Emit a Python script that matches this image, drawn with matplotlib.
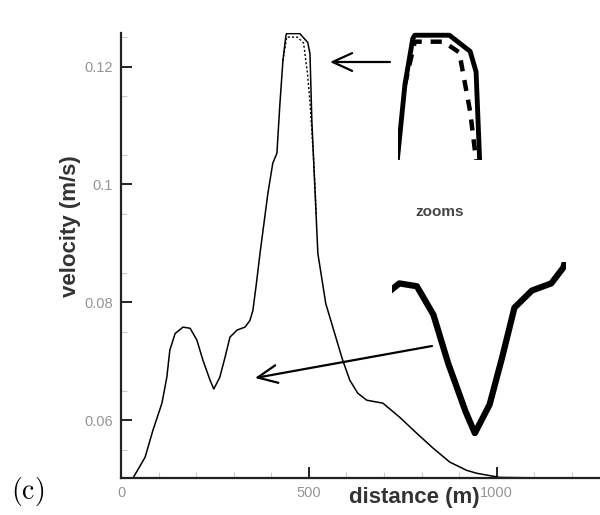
import matplotlib
matplotlib.use("Agg")
from matplotlib import pyplot as plt

# velocity profile along the section
dist = [32, 64, 85, 109, 122, 130, 144, 165, 184, 202, 218, 237, 247, 263, 277,
        290, 309, 330, 343, 351, 360, 370, 391, 404, 415, 423, 431, 439, 441,
        476, 497, 503, 508, 516, 524, 545, 582, 590, 609, 630, 654, 697, 742,
        787, 830, 875, 920, 947, 1008, 1141, 1200]
vel = [0.0502, 0.0537, 0.0583, 0.0629, 0.0673, 0.0719, 0.0747, 0.0758, 0.0756,
       0.0736, 0.0702, 0.0668, 0.0653, 0.0673, 0.0707, 0.0741, 0.0753, 0.0758,
       0.0769, 0.0786, 0.0830, 0.0883, 0.0985, 0.1036, 0.1053, 0.1137, 0.1210,
       0.1253, 0.1256, 0.1256, 0.1241, 0.1222, 0.1108, 0.0995, 0.0883, 0.0798,
       0.0719, 0.0702, 0.0668, 0.0646, 0.0634, 0.0629, 0.0605, 0.0578, 0.0553,
       0.0529, 0.0515, 0.0510, 0.0503, 0.0502, 0.0501]

# second (dashed) solution, only differs around the peak
dist_dash = [431, 441, 470, 486, 497, 503, 512, 520]
vel_dash = [0.1210, 0.1250, 0.1250, 0.1240, 0.1185, 0.1140, 0.1050, 0.0950]

yticks = [0.06, 0.08, 0.1, 0.12]
yticklabels = ["0.06", "0.08", "0.1", "0.12"]
xticks = [0, 500, 1000]

W, H = 600, 515
fig = plt.figure(figsize=(W / 100, H / 100), dpi=100)
plt.rcParams['mathtext.fontset'] = 'cm'

def box(x0, y0, x1, y1):
    # pixel box (top-left origin) -> figure fraction rect
    return [x0 / W, 1 - y1 / H, (x1 - x0) / W, (y1 - y0) / H]

ax = fig.add_axes(box(121, 33, 600, 478))
ax.plot(dist, vel, color='black', lw=1.1)
ax.plot(dist_dash, vel_dash, color='black', lw=1.0, ls=(0, (1.5, 1.5)))
ax.set_xlim(0, 1275)
ax.set_ylim(0.0502, 0.1257)
for s in ['top', 'right']:
    ax.spines[s].set_visible(False)
for s in ['left', 'bottom']:
    ax.spines[s].set_linewidth(1.6)
    ax.spines[s].set_color('#222222')
ax.set_yticks(yticks)
ax.set_yticklabels(yticklabels)
ax.set_xticks(xticks)
ax.set_xticks(range(100, 1300, 100), minor=True)
ax.set_yticks([0.055, 0.065, 0.075, 0.085, 0.095, 0.105, 0.115, 0.125], minor=True)
ax.tick_params(which='major', direction='in', length=8, width=1.4, color='#222222',
               labelsize=10.5, labelcolor='#959595', pad=6)
ax.tick_params(which='minor', direction='in', length=4, width=0.8, color='#cccccc')
ax.set_xlabel('distance (m)', fontsize=16, fontweight='bold', color='#333333',
              family='Liberation Sans')
ax.xaxis.set_label_coords(0.613, -0.02)
ax.set_ylabel('velocity (m/s)', fontsize=16, fontweight='bold', color='#333333',
              family='Liberation Sans')
ax.yaxis.set_label_coords(-0.083, 0.566)
for lab in ax.get_xticklabels() + ax.get_yticklabels():
    lab.set_family('Liberation Sans')

# zoom on the peak
ax1 = fig.add_axes(box(398, 32, 482, 160))
ax1.plot(dist, vel, color='black', lw=3.5)
ax1.plot(dist_dash, vel_dash, color='black', lw=3.2, ls=(0, (2.5, 2)))
ax1.set_xlim(424, 509)
ax1.set_ylim(0.1140, 0.1259)
ax1.axis('off')

# zoom on the dip
ax2 = fig.add_axes(box(392, 262, 566, 436))
ax2.plot(dist, vel, color='black', lw=4.5, solid_capstyle='butt')
ax2.set_xlim(157, 346)
ax2.set_ylim(0.0651, 0.0773)
ax2.axis('off')

fig.text(440 / W, 1 - 212 / H, 'zooms', ha='center', va='center', fontsize=11,
         fontweight='bold', color='#444444', family='Liberation Sans')

arrow = dict(arrowstyle='->,head_length=0.7,head_width=0.32', color='black', lw=1.6,
             mutation_scale=20, shrinkA=0, shrinkB=0)
fig.add_artist(matplotlib.patches.FancyArrowPatch(
    (390 / W, 1 - 62 / H), (330 / W, 1 - 62 / H), transform=fig.transFigure, **arrow))
fig.add_artist(matplotlib.patches.FancyArrowPatch(
    (432 / W, 1 - 346 / H), (255 / W, 1 - 378 / H), transform=fig.transFigure, **arrow))

fig.text(11 / W, 1 - 492 / H, r'$\mathrm{(c)}$', ha='left', va='center', fontsize=20)

fig.savefig('out.png', dpi=100)
